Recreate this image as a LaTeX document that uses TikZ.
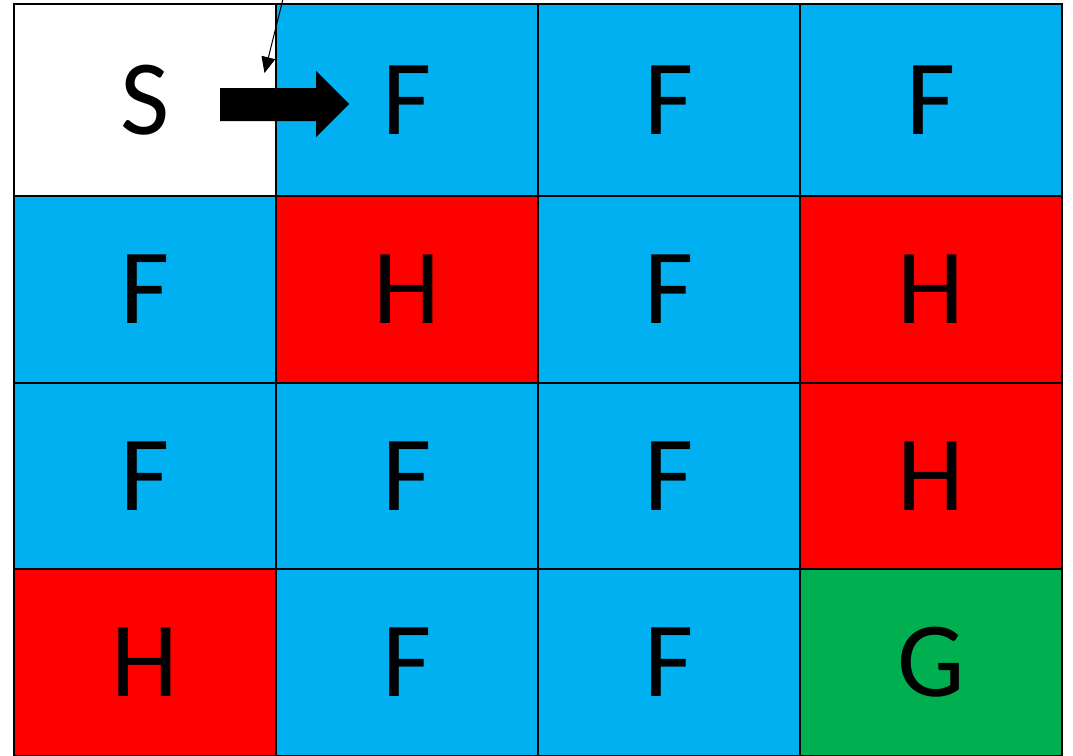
\documentclass[tikz,border=0pt]{standalone}
\usepackage{fontspec}
\setmainfont{Carlito}
\usepackage{xcolor}
\usetikzlibrary{arrows.meta}
\definecolor{iceblue}{HTML}{00B0F0}
\definecolor{holered}{HTML}{FF0000}
\definecolor{goalgreen}{HTML}{00B050}

\tikzset{
  cell/.style={draw=black, line width=2.5pt, minimum width=262pt, inner sep=0pt,
    font=\fontsize{107}{107}\selectfont},
  tileS/.style={fill=white},
  tileF/.style={fill=iceblue},
  tileH/.style={fill=holered},
  tileG/.style={fill=goalgreen}
}

\begin{document}
\begin{tikzpicture}[x=1pt, y=-1pt]
  \useasboundingbox (0,0) rectangle (1073,755);
  % the lake, row by row
  \foreach \r/\yc/\h/\row in {1/100/192/{S,F,F,F}, 2/289.5/187/{F,H,F,H},
                             3/476/186/{F,F,F,H}, 4/662.5/187/{H,F,F,G}} {
    \foreach \l [count=\c] in \row {
      \node[cell, tile\l, minimum height=\h pt] (cell-\r-\c)
        at ({145+262*(\c-1)}, \yc) {\l};
    }
  }
  % move to the right
  \fill[black] (220,88) -- (316,88) -- (316,71) -- (349,104)
    -- (316,137) -- (316,121) -- (220,121) -- cycle;
  % pointer
  \coordinate (tail) at (283.5,-3);
  \coordinate (aim) at (264.5,73);
  \draw[line width=1pt, -{Triangle[length=16pt,width=14pt]}] (tail) -- (aim);
\end{tikzpicture}
\end{document}
